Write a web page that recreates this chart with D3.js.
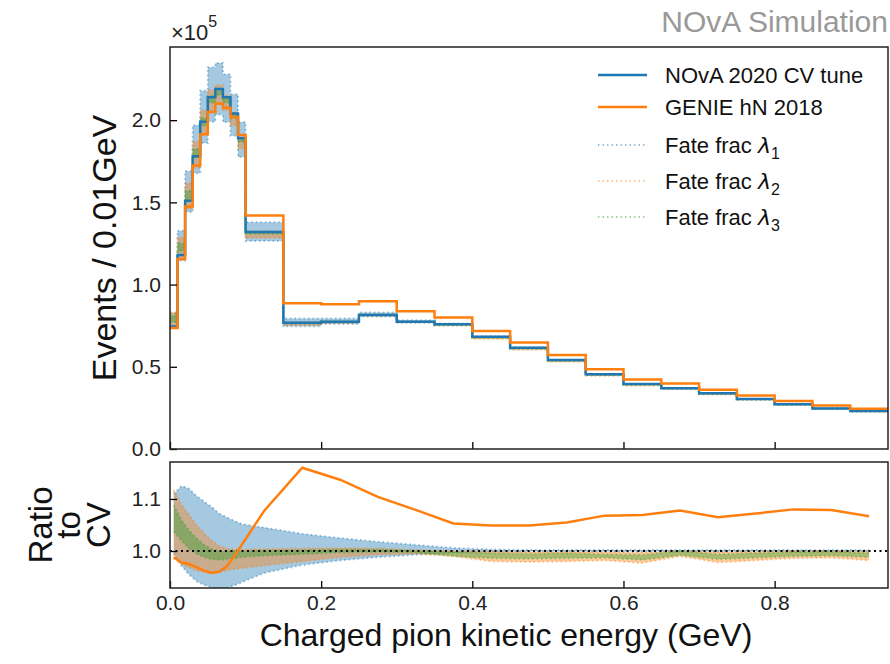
<!DOCTYPE html>
<html>
<head>
<meta charset="utf-8">
<script src="https://cdn.jsdelivr.net/npm/d3@7"></script>
<style>
  body { margin: 0; background: #fff; }
  text { font-family: "Liberation Sans", Arial, sans-serif; }
</style>
</head>
<body>
<div id="chart"></div>
<script>
// bin edges in GeV (fine bins up to 0.1, then 0.05 wide)
var edges = [0.00, 0.01, 0.02, 0.03, 0.04, 0.05, 0.06, 0.07, 0.08, 0.09, 0.10,
             0.15, 0.20, 0.25, 0.30, 0.35, 0.40, 0.45, 0.50, 0.55, 0.60,
             0.65, 0.70, 0.75, 0.80, 0.85, 0.90, 0.95]

// events / 0.01 GeV, in units of 1e5
var cvTune  = [0.745, 1.18, 1.51, 1.78, 1.99, 2.14, 2.19, 2.14, 2.04, 1.89,
               1.32, 0.768, 0.774, 0.815, 0.774, 0.758, 0.683, 0.616, 0.541,
               0.454, 0.395, 0.369, 0.339, 0.304, 0.272, 0.247, 0.231]
var genieHN = [0.736, 1.155, 1.475, 1.725, 1.915, 2.05, 2.10, 2.075, 2.02, 1.91,
               1.42, 0.886, 0.880, 0.898, 0.838, 0.800, 0.717, 0.648, 0.571,
               0.485, 0.423, 0.398, 0.361, 0.326, 0.292, 0.264, 0.245]

// ratio to CV, at bin centres
var ratioGenie = [0.988, 0.978, 0.975, 0.969, 0.962, 0.958, 0.960, 0.970, 0.990, 1.012,
                  1.078, 1.160, 1.137, 1.104, 1.079, 1.053, 1.049, 1.049, 1.055,
                  1.068, 1.069, 1.078, 1.065, 1.072, 1.080, 1.079, 1.067]

var lam1Hi = [1.110, 1.125, 1.120, 1.106, 1.095, 1.085, 1.072, 1.065, 1.058, 1.052,
              1.045, 1.033, 1.025, 1.018, 1.012, 1.006, 1.003, 1.002, 1.002,
              1.002, 1.002, 1.002, 1.002, 1.002, 1.002, 1.002, 1.002]
var lam1Lo = [0.995, 0.972, 0.955, 0.942, 0.935, 0.930, 0.928, 0.929, 0.934, 0.940,
              0.958, 0.973, 0.982, 0.988, 0.993, 0.996, 0.998, 0.999, 0.999,
              0.999, 0.999, 0.999, 0.999, 0.999, 0.999, 0.999, 0.999]
var lam2Hi = [1.117, 1.090, 1.070, 1.050, 1.035, 1.020, 1.010, 1.005, 1.003, 1.003,
              1.004, 1.005, 1.006, 1.005, 1.002, 1.000, 0.999, 0.998, 0.998,
              0.998, 0.997, 1.000, 0.998, 0.999, 1.000, 1.000, 0.999]
var lam2Lo = [0.985, 0.975, 0.968, 0.962, 0.960, 0.958, 0.960, 0.962, 0.965, 0.967,
              0.972, 0.980, 0.988, 0.993, 0.995, 0.990, 0.980, 0.979, 0.980,
              0.982, 0.977, 0.990, 0.978, 0.982, 0.986, 0.987, 0.982]
var lam3Hi = [1.088, 1.060, 1.040, 1.025, 1.012, 1.004, 1.000, 1.000, 1.000, 1.000,
              1.001, 1.002, 1.003, 1.003, 1.001, 0.998, 0.996, 0.995, 0.996,
              0.994, 0.993, 1.000, 0.994, 0.996, 0.998, 0.999, 0.996]
var lam3Lo = [1.037, 1.020, 1.005, 0.995, 0.988, 0.984, 0.983, 0.984, 0.986, 0.988,
              0.991, 0.994, 0.997, 0.998, 0.997, 0.990, 0.986, 0.985, 0.986,
              0.987, 0.983, 0.992, 0.984, 0.987, 0.990, 0.991, 0.988]

var yTicks = [0.0, 0.5, 1.0, 1.5, 2.0]
var rTicks = [1.0, 1.1]
var xTicks = [0.0, 0.2, 0.4, 0.6, 0.8]

var blue = "#1f77b4", orange = "#ff7f0e", green = "#2ca02c"

var width = 890, height = 664
var svg = d3.select("#chart").append("svg")
  .attr("width", width).attr("height", height)

var x = d3.scaleLinear().domain([0, 0.95]).range([170, 888])
var y = d3.scaleLinear().domain([0, 2.445]).range([449, 47])
var r = d3.scaleLinear().domain([0.929, 1.171]).range([588, 462])

var centers = cvTune.map(function(d, i) { return (edges[i] + edges[i + 1]) / 2 })

// step points: each bin value at its left edge, last repeated at the right edge
function steps(vals) {
  var pts = vals.map(function(v, i) { return [edges[i], v] })
  pts.push([edges[edges.length - 1], vals[vals.length - 1]])
  return pts
}

var defs = svg.append("defs")
defs.append("clipPath").attr("id", "clipTop")
  .append("rect").attr("x", 170).attr("y", 47).attr("width", 718).attr("height", 402)
defs.append("clipPath").attr("id", "clipBot")
  .append("rect").attr("x", 170).attr("y", 462).attr("width", 718).attr("height", 126)

var topG = svg.append("g").attr("clip-path", "url(#clipTop)")
var botG = svg.append("g").attr("clip-path", "url(#clipBot)")

var bands = [
  { hi: lam1Hi, lo: lam1Lo, color: blue },
  { hi: lam2Hi, lo: lam2Lo, color: orange },
  { hi: lam3Hi, lo: lam3Lo, color: green }
]

// top panel bands (shift / CV times CV)
var stepArea = d3.area().curve(d3.curveStepAfter)
  .x(function(d) { return x(d[0]) })
  .y0(function(d) { return y(d[1]) })
  .y1(function(d) { return y(d[2]) })
var stepLine = d3.line().curve(d3.curveStepAfter)
  .x(function(d) { return x(d[0]) })
  .y(function(d) { return y(d[1]) })

bands.forEach(function(b) {
  var lo = cvTune.map(function(c, i) { return c * b.lo[i] })
  var hi = cvTune.map(function(c, i) { return c * b.hi[i] })
  var pl = steps(lo), ph = steps(hi)
  topG.append("path")
    .attr("d", stepArea(pl.map(function(p, i) { return [p[0], p[1], ph[i][1]] })))
    .attr("fill", b.color).attr("fill-opacity", 0.4).attr("stroke", "none")
  ;[pl, ph].forEach(function(p) {
    topG.append("path").attr("d", stepLine(p))
      .attr("fill", "none").attr("stroke", b.color).attr("stroke-opacity", 0.45)
      .attr("stroke-width", 2).attr("stroke-dasharray", "1.5,3")
  })
})

topG.append("path").attr("d", stepLine(steps(cvTune)))
  .attr("fill", "none").attr("stroke", blue).attr("stroke-width", 2.5)
topG.append("path").attr("d", stepLine(steps(genieHN)))
  .attr("fill", "none").attr("stroke", orange).attr("stroke-width", 2.5)

// ratio panel
var ratioArea = d3.area()
  .x(function(d) { return x(d[0]) })
  .y0(function(d) { return r(d[1]) })
  .y1(function(d) { return r(d[2]) })
var ratioLine = d3.line()
  .x(function(d) { return x(d[0]) })
  .y(function(d) { return r(d[1]) })

bands.forEach(function(b) {
  botG.append("path")
    .attr("d", ratioArea(centers.map(function(c, i) { return [c, b.lo[i], b.hi[i]] })))
    .attr("fill", b.color).attr("fill-opacity", 0.4).attr("stroke", "none")
  ;[b.lo, b.hi].forEach(function(v) {
    botG.append("path").attr("d", ratioLine(centers.map(function(c, i) { return [c, v[i]] })))
      .attr("fill", "none").attr("stroke", b.color).attr("stroke-opacity", 0.45)
      .attr("stroke-width", 2).attr("stroke-dasharray", "1.5,3")
  })
})

botG.append("line").attr("x1", 170).attr("x2", 888).attr("y1", r(1)).attr("y2", r(1))
  .attr("stroke", "#000").attr("stroke-width", 2).attr("stroke-dasharray", "2,3.5")

botG.append("path").attr("d", ratioLine(centers.map(function(c, i) { return [c, ratioGenie[i]] })))
  .attr("fill", "none").attr("stroke", orange).attr("stroke-width", 2.5)

// axes, ticks pointing inward
function styleAxis(g) {
  g.select(".domain").remove()
  g.selectAll(".tick line").attr("stroke", "#000").attr("stroke-width", 1.3)
  g.selectAll(".tick text").attr("fill", "#222").style("font-size", "21px")
    .style("font-family", "'Liberation Sans', Arial, sans-serif")
}

svg.append("g").attr("transform", "translate(170,0)")
  .call(d3.axisLeft(y).tickValues(yTicks).tickSize(-7).tickPadding(9).tickFormat(d3.format(".1f")))
  .call(styleAxis)
svg.append("g").attr("transform", "translate(0,449)")
  .call(d3.axisBottom(x).tickValues(xTicks).tickSize(-7).tickFormat(""))
  .call(styleAxis)
svg.append("g").attr("transform", "translate(170,0)")
  .call(d3.axisLeft(r).tickValues(rTicks).tickSize(-7).tickPadding(9).tickFormat(d3.format(".1f")))
  .call(styleAxis)
svg.append("g").attr("transform", "translate(0,588)")
  .call(d3.axisBottom(x).tickValues(xTicks).tickSize(-7).tickPadding(7).tickFormat(d3.format(".1f")))
  .call(styleAxis)

// frames
svg.append("rect").attr("x", 170).attr("y", 47).attr("width", 718).attr("height", 402)
  .attr("fill", "none").attr("stroke", "#222").attr("stroke-width", 1.5)
svg.append("rect").attr("x", 170).attr("y", 462).attr("width", 718).attr("height", 126)
  .attr("fill", "none").attr("stroke", "#222").attr("stroke-width", 1.5)

// labels
svg.append("text").attr("x", 888).attr("y", 32).attr("text-anchor", "end")
  .attr("fill", "#999").style("font-size", "30px").text("NOvA Simulation")

var mult = svg.append("text").attr("x", 171).attr("y", 40).attr("fill", "#222").style("font-size", "22px")
mult.append("tspan").text("×10")
mult.append("tspan").attr("dy", -13).style("font-size", "16px").text("5")

svg.append("text").attr("transform", "translate(116,248) rotate(-90)")
  .attr("text-anchor", "middle").attr("fill", "#111").style("font-size", "34px")
  .text("Events / 0.01GeV")

var rl = svg.append("text").attr("transform", "translate(0,525) rotate(-90)")
  .attr("text-anchor", "middle").attr("fill", "#111").style("font-size", "33px")
rl.append("tspan").attr("x", 0).attr("y", 52).text("Ratio")
rl.append("tspan").attr("x", 0).attr("y", 80).text("to")
rl.append("tspan").attr("x", 0).attr("y", 110).text("CV")

svg.append("text").attr("x", 506).attr("y", 646).attr("text-anchor", "middle")
  .attr("fill", "#111").style("font-size", "32px").text("Charged pion kinetic energy (GeV)")

// legend
var legendItems = [
  { label: "NOvA 2020 CV tune", color: blue, dotted: false, y: 75 },
  { label: "GENIE hN 2018", color: orange, dotted: false, y: 107 },
  { label: "Fate frac ", sub: "1", color: blue, dotted: true, y: 145 },
  { label: "Fate frac ", sub: "2", color: orange, dotted: true, y: 181 },
  { label: "Fate frac ", sub: "3", color: green, dotted: true, y: 217 }
]
var lg = svg.append("g")
legendItems.forEach(function(d) {
  lg.append("line").attr("x1", 598).attr("x2", 647).attr("y1", d.y).attr("y2", d.y)
    .attr("stroke", d.color).attr("stroke-width", d.dotted ? 2 : 2.5)
    .attr("stroke-opacity", d.dotted ? 0.45 : 1)
    .attr("stroke-dasharray", d.dotted ? "1.5,3" : null)
  var t = lg.append("text").attr("x", 665).attr("y", d.y + 8).attr("fill", "#111")
    .style("font-size", "22px")
  t.append("tspan").text(d.label)
  if (d.sub) {
    t.append("tspan").style("font-style", "italic").style("font-family", "'DejaVu Sans', sans-serif").text("λ")
    t.append("tspan").attr("dy", 6).style("font-size", "16px").text(d.sub)
  }
})
</script>
</body>
</html>
